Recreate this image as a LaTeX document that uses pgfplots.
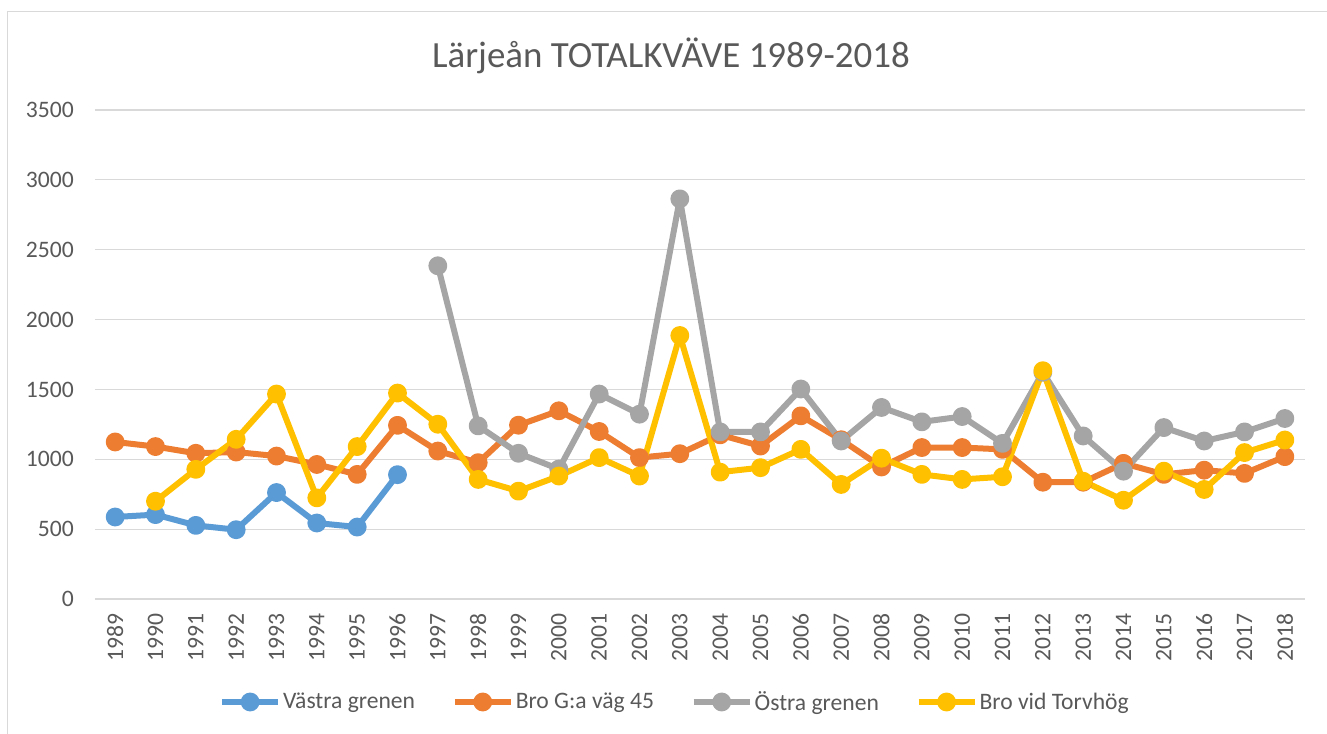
\documentclass[border=0pt]{standalone}
\usepackage{pgfplots}
\pgfplotsset{compat=1.18}
\usepackage{fontspec}
\setmainfont{Carlito}
\definecolor{cblue}{HTML}{5B9BD5}
\definecolor{corange}{HTML}{ED7D31}
\definecolor{cgray}{HTML}{A5A5A5}
\definecolor{cyellow}{HTML}{FFC000}
\definecolor{ctext}{HTML}{595959}
\definecolor{cgrid}{HTML}{D9D9D9}
\begin{document}
\begin{tikzpicture}
\useasboundingbox (-71.25pt,-100.5pt) rectangle (924pt,449.25pt);
\draw[cgrid, line width=0.75pt] (-65.25pt,-101pt) -- (-65.25pt,440.25pt) -- (925pt,440.25pt);
\node[anchor=base, text=ctext, font=\fontsize{27.7}{32}\selectfont] at (432pt,398.25pt) {Lärjeån TOTALKVÄVE 1989-2018};
\begin{axis}[
  at={(0,0)}, anchor=south west,
  scale only axis, width=907.5pt, height=366.75pt,
  xmin=-0.5, xmax=29.5, ymin=0, ymax=3500,
  xtick={0,...,29},
  xticklabels={1989,1990,1991,1992,1993,1994,1995,1996,1997,1998,1999,2000,2001,2002,2003,2004,2005,2006,2007,2008,2009,2010,2011,2012,2013,2014,2015,2016,2017,2018},
  ytick={0,500,...,3500},
  axis line style={draw=none},
  major tick style={draw=none},
  ymajorgrids, major grid style={cgrid, line width=0.9pt},
  /pgf/number format/assume math mode=true,
  /pgf/number format/1000 sep={},
  tick label style={text=ctext, font=\fontsize{17.7}{20}\selectfont},
  yticklabel style={anchor=east, inner sep=0pt, xshift=-15.75pt},
  xticklabel style={rotate=90, anchor=east, inner sep=0pt, xshift=-10.5pt},
  every axis plot/.append style={line width=4.5pt, line join=round, mark=*, mark size=4.8pt},
  legend columns=4,
  legend style={at={(0.4793,-0.2106)}, anchor=center, draw=none, fill=none,
    font=\fontsize{17.7}{20}\selectfont, text=ctext,
    nodes={inner sep=1.5pt},
    /tikz/every even column/.append style={column sep=26pt}},
  legend image code/.code={\draw[mark repeat=2, mark phase=2] plot coordinates {(0pt,0pt)(21pt,0pt)(42pt,0pt)};},
  clip=false,
]
\addplot[cblue, mark options={fill=cblue}] coordinates {
(0,587)(1,604)(2,527)(3,496)(4,762)(5,544)(6,515)(7,890)};
\addlegendentry{Västra grenen}
\addplot[corange, mark options={fill=corange}] coordinates {
(0,1124)(1,1091)(2,1043)(3,1052)(4,1023)(5,963)(6,892)(7,1243)(8,1059)(9,976)
(10,1244)(11,1347)(12,1199)(13,1012)(14,1040)(15,1175)(16,1095)(17,1311)(18,1140)(19,945)
(20,1084)(21,1084)(22,1071)(23,836)(24,836)(25,971)(26,892)(27,922)(28,899)(29,1019)};
\addlegendentry{Bro G:a väg 45}
\addplot[cgray, mark options={fill=cgray}] coordinates {
(8,2385)(9,1239)(10,1043)(11,930)(12,1467)(13,1323)(14,2864)(15,1196)(16,1196)(17,1503)
(18,1131)(19,1371)(20,1268)(21,1306)(22,1114)(23,1623)(24,1167)(25,915)(26,1227)(27,1131)
(28,1196)(29,1292)};
\addlegendentry{Östra grenen}
\addplot[cyellow, mark options={fill=cyellow}] coordinates {
(1,700)(2,928)(3,1143)(4,1467)(5,724)(6,1091)(7,1474)(8,1251)(9,856)(10,772)
(11,880)(12,1012)(13,880)(14,1886)(15,908)(16,940)(17,1071)(18,820)(19,1008)(20,892)
(21,856)(22,875)(23,1634)(24,843)(25,707)(26,915)(27,784)(28,1048)(29,1138)};
\addlegendentry{Bro vid Torvhög}
\end{axis}
\end{tikzpicture}
\end{document}
